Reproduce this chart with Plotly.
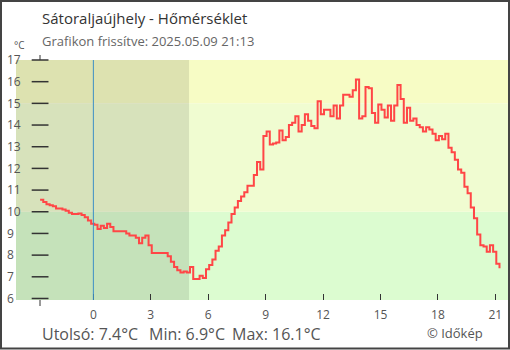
import pandas as pd
import plotly.graph_objects as go

title_text = "Sátoraljaújhely - Hőmérséklet"
subtitle_text = "Grafikon frissítve: 2025.05.09 21:13"
last_text = "Utolsó: 7.4°C"
min_text = "Min: 6.9°C"
max_text = "Max: 16.1°C"
credit_text = "© Időkép"
unit_text = "°C"

start_time = "2025-05-08 21:13"
step = "10min"
temps = [
    10.55, 10.45, 10.35, 10.3, 10.25, 10.15, 10.15, 10.1, 10.05, 9.95, 9.9, 9.9, 9.92,
    9.85, 9.75, 9.6, 9.45, 9.4, 9.2, 9.35, 9.25, 9.45, 9.3, 9.1, 9.1,
    9.1, 9.1, 9.0, 8.9, 8.9, 8.8, 8.55, 8.8, 8.9, 8.45, 8.1, 8.1, 8.1, 8.1, 8.1,
    7.95, 7.7, 7.45, 7.3, 7.2, 7.25, 7.2, 7.45, 6.9,
    6.9, 7.05, 6.95, 7.35, 7.55, 7.8, 8.2, 8.4, 8.9, 9.15, 9.5, 9.9, 10.2, 10.5,
    10.7, 10.9, 11.2, 11.2, 11.7, 12.3, 11.95, 13.5, 13.7, 13.1,
    13.15, 13.2, 13.75, 13.3, 13.45, 14.0, 14.1, 14.4, 13.7, 14.0, 14.5, 14.2,
    13.95, 13.85, 15.1, 14.5, 14.7, 14.7, 14.4, 14.9, 14.3, 14.9, 15.4,
    15.4, 15.3, 15.6, 16.1, 14.3, 14.4, 15.75, 15.7, 14.55, 14.1, 14.95, 14.7,
    14.35, 14.9, 14.2, 14.9, 15.85, 15.2, 14.1, 14.8, 14.2, 14.3, 14.0, 13.9,
    13.7, 13.9, 13.8, 13.6, 13.3, 13.5, 13.35, 13.6, 12.95, 12.75, 12.4, 11.95,
    11.8, 11.15, 10.85, 10.2, 9.7, 8.95, 8.45, 8.4, 8.15, 8.45, 8.15, 7.6, 7.4,
]
y_ticks = [6, 7, 8, 9, 10, 11, 12, 13, 14, 15, 16, 17]
x_tick_hours = [0, 3, 6, 9, 12, 15, 18, 21]
day = "2025-05-09"
sunrise = "2025-05-09 05:00"
x_range = ["2025-05-08 19:57:30", "2025-05-09 21:39:40"]
y_range = [5.93, 17.0]
bands = [(5.93, 10, "#dcfcd0"), (10, 15, "#f0fcd1"), (15, 17, "#f7fcc5")]

W, H = 510, 350
ML, MR, MT, MB = 0, 0, 60, 50
PW, PH = W - ML - MR, H - MT - MB


def px(x):
    return (x - ML) / PW


def py(y):
    return (H - MB - y) / PH


times = pd.date_range(start_time, periods=len(temps), freq=step)
tick_times = [pd.Timestamp(day) + pd.Timedelta(hours=h) for h in x_tick_hours]

fig = go.Figure()
fig.add_trace(go.Scatter(
    x=times, y=temps, mode="lines", line=dict(color="#ff4646", width=2, shape="hv"),
    hoverinfo="skip",
))
fig.add_trace(go.Scatter(
    x=[times[0]] * len(y_ticks), y=y_ticks, mode="markers", cliponaxis=False,
    marker=dict(symbol="line-ew", size=12, line=dict(color="#333", width=1.5)),
    hoverinfo="skip",
))

font = "Open Sans, Noto Sans, sans-serif"
shapes = []
for y0, y1, c in bands:
    shapes.append(dict(type="rect", xref="paper", yref="y", x0=px(16), x1=px(508), y0=y0, y1=y1,
                       fillcolor=c, line=dict(width=0), layer="below"))
shapes.append(dict(type="rect", xref="x", yref="paper", x0=x_range[0], x1=sunrise, y0=0, y1=1,
                   fillcolor="rgba(0,0,0,0.1)", line=dict(width=0), layer="below"))
shapes.append(dict(type="line", xref="x", yref="paper", x0=day, x1=day, y0=0, y1=1,
                   line=dict(color="#3d8fc6", width=1), layer="above"))
shapes.append(dict(type="line", xref="paper", yref="paper", x0=px(40), x1=px(40), y0=py(55), y1=py(60),
                   line=dict(color="#333", width=1)))
shapes.append(dict(type="line", xref="paper", yref="paper", x0=px(40), x1=px(40), y0=py(300), y1=py(306),
                   line=dict(color="#333", width=1)))
shapes.append(dict(type="rect", xref="paper", yref="paper", x0=px(1), x1=px(509), y0=py(348.5), y1=py(1),
                   line=dict(color="#444", width=2), fillcolor="rgba(0,0,0,0)"))

annotations = [
    dict(text=title_text, x=px(40), y=py(18), xanchor="left", yanchor="middle",
         font=dict(size=15, color="#333", family=font)),
    dict(text=subtitle_text, x=px(40), y=py(41), xanchor="left", yanchor="middle",
         font=dict(size=13, color="#666", family=font)),
    dict(text=unit_text, x=px(12), y=py(45), xanchor="left", yanchor="middle",
         font=dict(size=10, color="#555", family=font)),
    dict(text=last_text, x=px(40), y=py(333.5), xanchor="left", yanchor="middle",
         font=dict(size=16, color="#555", family=font)),
    dict(text=min_text, x=px(147), y=py(333.5), xanchor="left", yanchor="middle",
         font=dict(size=16, color="#555", family=font)),
    dict(text=max_text, x=px(230), y=py(333.5), xanchor="left", yanchor="middle",
         font=dict(size=16, color="#555", family=font)),
    dict(text=credit_text, x=px(425), y=py(332.5), xanchor="left", yanchor="middle",
         font=dict(size=13, color="#555", family=font)),
]
for a in annotations:
    a.update(xref="paper", yref="paper", showarrow=False)

fig.update_layout(
    width=W, height=H, margin=dict(l=ML, r=MR, t=MT, b=MB, pad=0),
    paper_bgcolor="white", plot_bgcolor="white", showlegend=False,
    font=dict(family=font, color="#555"),
    xaxis=dict(type="date", range=x_range, domain=[px(16), px(508)],
               tickvals=tick_times, ticktext=[str(h) for h in x_tick_hours],
               ticks="inside", ticklen=6, tickcolor="#333", tickwidth=1,
               ticklabelstandoff=6,
               showgrid=False, zeroline=False, showline=False,
               tickfont=dict(size=12, color="#555", family=font)),
    yaxis=dict(range=y_range, side="right", anchor="free", position=px(6),
               tickvals=y_ticks, ticks="", showgrid=False, zeroline=False, showline=False,
               tickfont=dict(size=12, color="#555", family=font)),
    shapes=shapes, annotations=annotations,
)
fig.write_html(
    "out.html",
    config={"displayModeBar": False},
    post_script="document.body.style.margin='0';document.body.style.padding='0';"
                "document.body.style.overflow='hidden';",
)
